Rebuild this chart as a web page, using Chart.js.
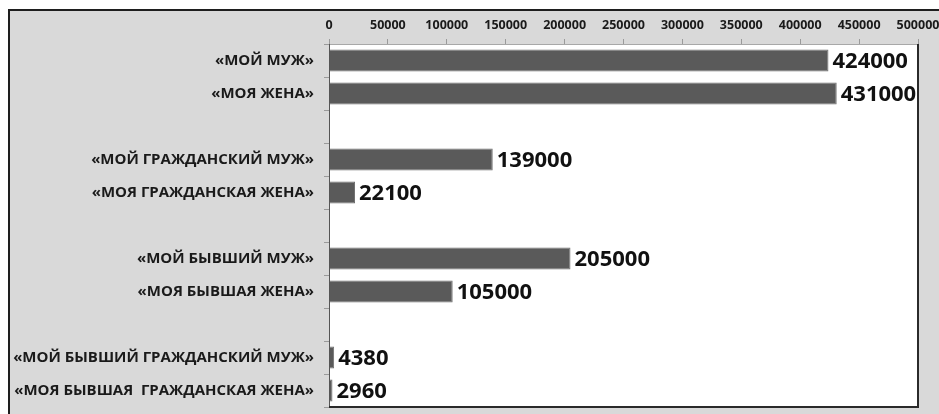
<!DOCTYPE html>
<html>
<head>
<meta charset="utf-8">
<script src="https://cdn.jsdelivr.net/npm/chart.js@4"></script>
<style>
  html, body { margin: 0; padding: 0; background: #fff; overflow: hidden; }
  #frame {
    position: absolute; left: 8px; top: 9px; width: 950px; height: 420px;
    border-top: 2px solid #1e1e1e; border-left: 2px solid #1e1e1e;
    background: #d9d9d9;
  }
  #chart { position: absolute; left: 0; top: 0; }
</style>
</head>
<body>
<div id="frame"></div>
<canvas id="chart" width="939" height="414"></canvas>
<script>
// categories (blank entries are the gaps between groups)
const categories = [
  '«МОЙ МУЖ»', '«МОЯ ЖЕНА»', '',
  '«МОЙ ГРАЖДАНСКИЙ МУЖ»', '«МОЯ ГРАЖДАНСКАЯ ЖЕНА»', '',
  '«МОЙ БЫВШИЙ МУЖ»', '«МОЯ БЫВШАЯ ЖЕНА»', '',
  '«МОЙ БЫВШИЙ ГРАЖДАНСКИЙ МУЖ»', '«МОЯ БЫВШАЯ  ГРАЖДАНСКАЯ ЖЕНА»'
];
const counts = [424000, 431000, null, 139000, 22100, null, 205000, 105000, null, 4380, 2960];
const axisMin = 0;
const axisMax = 500000;
const axisStep = 50000;

// white plot area + dark right/bottom edge
const plotFrame = {
  id: 'plotFrame',
  beforeDraw(chart) {
    const a = chart.chartArea, c = chart.ctx;
    c.save();
    c.fillStyle = '#ffffff';
    c.fillRect(a.left, a.top, a.right - a.left, a.bottom - a.top);
    c.restore();
  },
  afterDraw(chart) {
    const a = chart.chartArea, c = chart.ctx;
    c.save();
    c.strokeStyle = '#2a2a2a';
    c.lineWidth = 2;
    c.beginPath();
    c.moveTo(a.right, a.top);
    c.lineTo(a.right, a.bottom);
    c.lineTo(a.left, a.bottom);
    c.stroke();
    c.restore();
  }
};

// value labels at bar ends
const barValues = {
  id: 'barValues',
  afterDatasetsDraw(chart) {
    const c = chart.ctx;
    const meta = chart.getDatasetMeta(0);
    c.save();
    c.font = 'bold 22px "Open Sans"';
    c.fillStyle = '#111';
    c.textBaseline = 'middle';
    c.textAlign = 'left';
    meta.data.forEach((bar, i) => {
      const v = counts[i];
      if (v === null) return;
      c.fillText(String(v), bar.x + 4, bar.y + 1);
    });
    c.restore();
  }
};

new Chart(document.getElementById('chart'), {
  type: 'bar',
  data: {
    labels: categories,
    datasets: [{
      data: counts,
      backgroundColor: '#5a5a5a',
      borderColor: '#6e6e6e',
      borderWidth: 1,
      barPercentage: 0.66,
      categoryPercentage: 1
    }]
  },
  options: {
    indexAxis: 'y',
    responsive: false,
    animation: false,
    layout: { padding: { top: 0, right: 21, bottom: 7, left: 0 } },
    scales: {
      x: {
        position: 'top',
        min: axisMin,
        max: axisMax,
        afterFit(scale) { scale.height = 44; scale.paddingLeft = 0; scale.paddingRight = 0; },
        ticks: {
          stepSize: axisStep,
          padding: 6,
          color: '#1a1a1a',
          font: { family: 'Open Sans', size: 12.5, weight: 'bold' },
          callback: v => String(v),
          maxRotation: 0
        },
        grid: { drawOnChartArea: false, tickLength: 5, color: '#9a9a9a' },
        border: { color: '#a8a8a8', width: 1 }
      },
      y: {
        afterFit(scale) { scale.width = 329; scale.paddingTop = 0; scale.paddingBottom = 0; },
        ticks: {
          autoSkip: false,
          padding: 10,
          color: '#1a1a1a',
          font: { family: 'Open Sans', size: 15, weight: 'bold' }
        },
        grid: { drawOnChartArea: false, tickLength: 5, color: '#9a9a9a' },
        border: { color: '#555', width: 1 }
      }
    },
    plugins: {
      legend: { display: false },
      tooltip: { enabled: false }
    }
  },
  plugins: [plotFrame, barValues]
});
</script>
</body>
</html>
